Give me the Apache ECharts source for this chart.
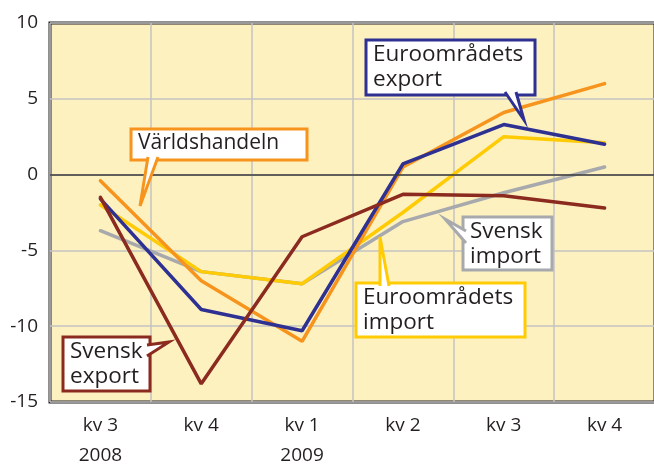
<!DOCTYPE html>
<html>
<head>
<meta charset="utf-8">
<script src="https://cdn.jsdelivr.net/npm/echarts@6/dist/echarts.min.js"></script>
<style>
  html, body { margin: 0; padding: 0; background: #fff; }
  #chart { width: 654px; height: 464px; }
</style>
</head>
<body>
<div id="chart"></div>
<script>
  // kvartal, 2008 kv3 - 2009 kv4
  var categories = ['kv 3\n2008', 'kv 4', 'kv 1\n2009', 'kv 2', 'kv 3', 'kv 4'];
  var yTicks = [-15, -10, -5, 0, 5, 10];

  var varldshandeln = [-0.4, -7.0, -11.0, 0.5, 4.1, 6.0];
  var euroExport = [-1.6, -8.9, -10.3, 0.7, 3.3, 2.0];
  var euroImport = [-2.0, -6.4, -7.2, -2.5, 2.5, 2.1];
  var svenskImport = [-3.7, -6.4, -7.2, -3.1, -1.2, 0.5];
  var svenskExport = [-1.5, -13.8, -4.1, -1.3, -1.4, -2.2];

  var font = '"Open Sans", "Noto Sans", sans-serif';
  var textColor = '#231f20';

  function serie(name, data, color) {
    return {
      name: name,
      type: 'line',
      data: data,
      symbol: 'none',
      lineStyle: { color: color, width: 3.5, cap: 'round' },
      z: 3
    };
  }

  // etikett med liten pil mot linjen
  function callout(lines, color, box, b1, b2, tip, size) {
    return [
      {
        type: 'rect',
        shape: { x: box[0], y: box[1], width: box[2], height: box[3] },
        style: { fill: '#fff', stroke: color, lineWidth: 3 },
        z: 10
      },
      {
        type: 'polygon',
        shape: { points: [b1, tip, b2] },
        style: { fill: '#fff' },
        z: 11
      },
      {
        type: 'polyline',
        shape: { points: [b1, tip, b2] },
        style: { stroke: color, lineWidth: 3, fill: null },
        z: 12
      },
      {
        type: 'text',
        x: box[0] + 7,
        y: box[1] + 2,
        style: {
          text: lines,
          font: size + 'px ' + font,
          fill: textColor,
          lineHeight: 25
        },
        z: 13
      }
    ];
  }

  var myChart = echarts.init(document.getElementById('chart'));

  var graphics = [].concat(
    callout('Världshandeln', '#f7941d', [131, 129, 176, 31],
      [148, 157], [158, 157], [140, 206], 21),
    callout('Euroområdets\nexport', '#2e3192', [366, 40, 169, 55],
      [505, 92], [516, 92], [524, 120], 22.5),
    callout('Svensk\nimport', '#a7a9ac', [463, 217, 89, 53],
      [466, 231], [466, 243], [445, 219], 22.5),
    callout('Euroområdets\nimport', '#ffcb05', [356, 283, 169, 54],
      [380, 286], [389, 286], [380, 237], 22.5),
    callout('Svensk\nexport', '#8b2a1e', [63, 337, 87, 54],
      [147, 345], [147, 356], [169, 342], 22.5)
  );

  myChart.setOption({
    animation: false,
    grid: {
      left: 50,
      right: -1,
      top: 23,
      bottom: 62,
      outerBoundsMode: 'none',
      containLabel: false,
      show: true,
      backgroundColor: '#fdf1c0',
      borderColor: '#231f20',
      borderWidth: 3,
      z: 0
    },
    xAxis: {
      type: 'category',
      data: categories,
      boundaryGap: true,
      axisLine: { show: false },
      axisTick: { show: false },
      splitLine: { show: true, lineStyle: { color: '#c3c3c3', width: 1.5 } },
      axisLabel: {
        color: textColor,
        fontSize: 19,
        fontFamily: font,
        lineHeight: 30,
        margin: 9,
        verticalAlign: 'top'
      }
    },
    yAxis: {
      type: 'value',
      min: -15,
      max: 10,
      interval: 5,
      axisLine: { show: false },
      axisTick: { show: false },
      splitLine: { lineStyle: { color: '#c3c3c3', width: 1.5 } },
      axisLabel: {
        color: textColor,
        fontSize: 19,
        fontFamily: font,
        margin: 12,
        formatter: function (v) { return yTicks.indexOf(v) >= 0 ? String(v) : ''; }
      }
    },
    series: [
      Object.assign(serie('Svensk import', svenskImport, '#a7a9ac'), {
        markLine: {
          silent: true,
          symbol: 'none',
          label: { show: false },
          lineStyle: { color: '#3a3a3a', width: 1.5, type: 'solid' },
          data: [{ yAxis: 0 }]
        }
      }),
      serie('Euroområdets import', euroImport, '#ffcb05'),
      serie('Världshandeln', varldshandeln, '#f7941d'),
      serie('Euroområdets export', euroExport, '#2e3192'),
      serie('Svensk export', svenskExport, '#8b2a1e')
    ],
    graphic: graphics
  });
</script>
</body>
</html>
